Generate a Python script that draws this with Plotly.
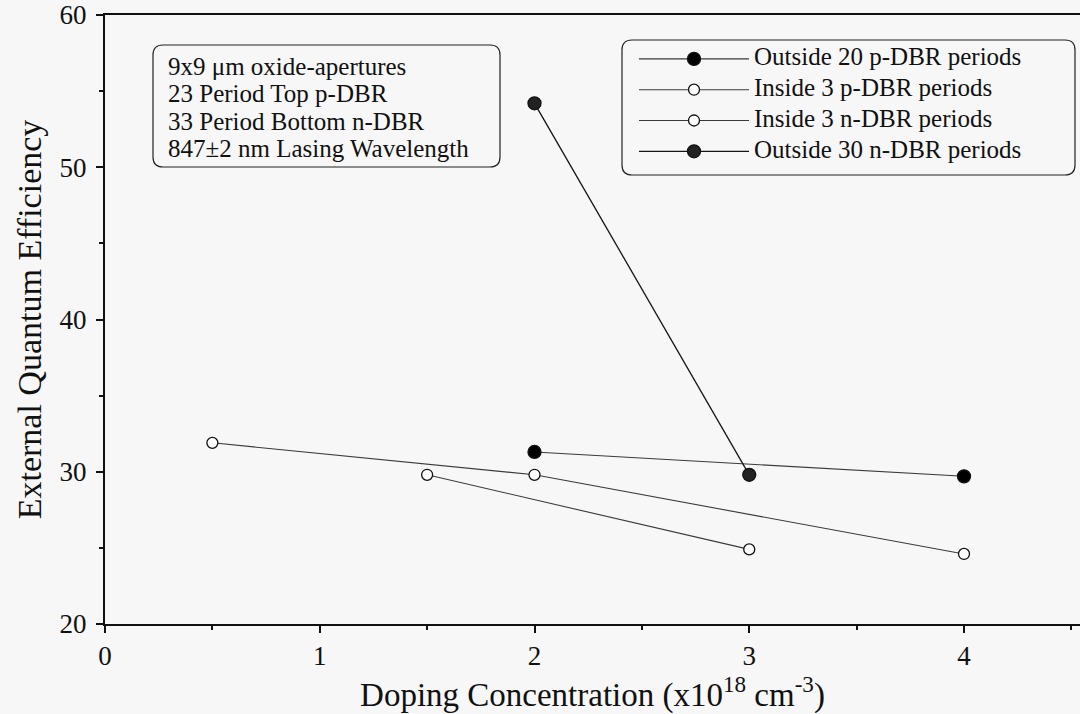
import plotly.graph_objects as go

# ---- data ----
out_p20_x = [2, 4]
out_p20_y = [31.3, 29.7]

in_p3_x = [0.5, 2, 4]
in_p3_y = [31.9, 29.8, 24.6]

in_n3_x = [1.5, 3]
in_n3_y = [29.8, 24.9]

out_n30_x = [2, 3]
out_n30_y = [54.2, 29.8]

series_names = ["Outside 20 p-DBR periods", "Inside 3 p-DBR periods",
                "Inside 3 n-DBR periods", "Outside 30 n-DBR periods"]
x_ticks = [0, 1, 2, 3, 4]
y_ticks = [20, 30, 40, 50, 60]
info_lines = ["9x9 \u03bcm oxide-apertures", "23 Period Top p-DBR",
              "33 Period Bottom n-DBR", "847\u00b12 nm Lasing Wavelength"]

FONT = "Liberation Serif, Times New Roman, serif"
BG = "#f7f7f7"
INK = "#111111"

W, H = 1080, 714
ML, MR, MT, MB = 105, 0, 15, 90
PW, PH = W - ML - MR, H - MT - MB

LEG_TEXT = 25

fig = go.Figure()

def add(xs, ys, name, fill, size, lw, lc, grp):
    fig.add_trace(go.Scatter(
        x=xs, y=ys, mode="lines+markers", legendgroup=grp,
        name=f'<span style="font-size:{LEG_TEXT}px">{name}</span>',
        line=dict(color=lc, width=lw),
        marker=dict(size=size, color=fill, line=dict(color=INK, width=1.3)),
    ))

add(out_p20_x, out_p20_y, series_names[0], "#000000", 13, 1.1, "#3a3a3a", "a")
add(in_p3_x, in_p3_y, series_names[1], "#ffffff", 11, 1.1, "#3a3a3a", "b")
add(in_n3_x, in_n3_y, series_names[2], "#ffffff", 11, 1.1, "#3a3a3a", "c")
add(out_n30_x, out_n30_y, series_names[3], "#222222", 13, 1.3, "#151515", "d")

def px2paper(px, py):
    return (px - ML) / PW, (H - MB - py) / PH

def rounded_rect(x0, y0, x1, y1, r):
    def P(x, y):
        a, b = px2paper(x, y)
        return f"{a:.5f},{b:.5f}"
    return (f"M {P(x0 + r, y0)} L {P(x1 - r, y0)} Q {P(x1, y0)} {P(x1, y0 + r)} "
            f"L {P(x1, y1 - r)} Q {P(x1, y1)} {P(x1 - r, y1)} "
            f"L {P(x0 + r, y1)} Q {P(x0, y1)} {P(x0, y1 - r)} "
            f"L {P(x0, y0 + r)} Q {P(x0, y0)} {P(x0 + r, y0)} Z")

shapes = [
    dict(type="path", xref="paper", yref="paper", path=rounded_rect(153, 45, 500, 167, 10),
         line=dict(color="#222222", width=1.2), fillcolor="rgba(0,0,0,0)", layer="below"),
    dict(type="path", xref="paper", yref="paper", path=rounded_rect(622, 40, 1075, 175, 10),
         line=dict(color="#222222", width=1.2), fillcolor="rgba(0,0,0,0)", layer="below"),
]

annotations = []
for i, line in enumerate(info_lines):
    ax, ay = px2paper(166, 66 + i * 27.5)
    annotations.append(dict(
        xref="paper", yref="paper", x=ax, y=ay, xanchor="left", yanchor="middle",
        text=line, showarrow=False, align="left",
        font=dict(family=FONT, size=25, color=INK),
    ))

lx, ly = px2paper(634, 42)

fig.update_layout(
    width=W, height=H,
    margin=dict(l=ML, r=MR, t=MT, b=MB),
    paper_bgcolor=BG, plot_bgcolor=BG,
    font=dict(family=FONT, color=INK),
    shapes=shapes, annotations=annotations,
    showlegend=True,
    legend=dict(x=lx, y=ly, xanchor="left", yanchor="top",
                bgcolor="rgba(0,0,0,0)", borderwidth=0,
                font=dict(family=FONT, size=16, color=INK),
                itemwidth=110, tracegroupgap=7, traceorder="grouped"),
    xaxis=dict(range=[0, PW / 214.75], tickvals=x_ticks, ticktext=[str(v) for v in x_ticks],
               showline=True, linecolor=INK, linewidth=2, mirror=True,
               ticks="outside", ticklen=7, tickwidth=1.5, tickcolor=INK,
               minor=dict(dtick=0.5, tick0=0, ticks="outside", ticklen=4, tickcolor=INK),
               showgrid=False, zeroline=False,
               tickfont=dict(family=FONT, size=27),
               title=dict(text="Doping Concentration (x10<sup>18</sup> cm<sup>-3</sup>)",
                          font=dict(family=FONT, size=33), standoff=6)),
    yaxis=dict(range=[20, 60], tickvals=y_ticks,
               showline=True, linecolor=INK, linewidth=2, mirror=False,
               ticks="outside", ticklen=7, tickwidth=1.5, tickcolor=INK,
               minor=dict(dtick=5, tick0=0, ticks="outside", ticklen=4, tickcolor=INK),
               showgrid=False, zeroline=False, ticklabelstandoff=4,
               tickfont=dict(family=FONT, size=27),
               title=dict(text="External Quantum Efficiency",
                          font=dict(family=FONT, size=34), standoff=8)),
)

fig.write_html("out.html")
